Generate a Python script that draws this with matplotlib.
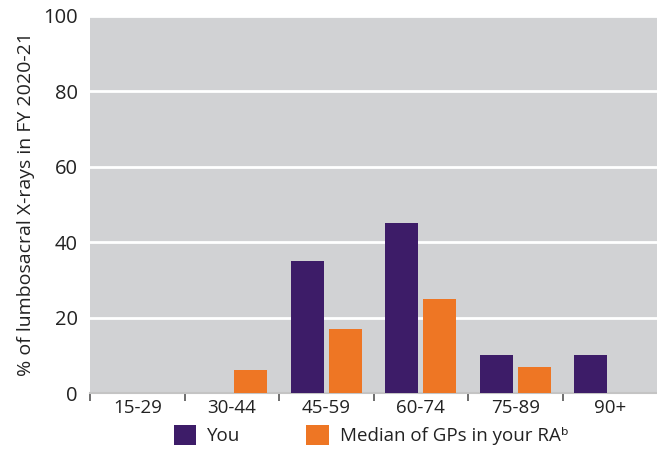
import matplotlib
matplotlib.use("Agg")
import matplotlib.pyplot as plt
import numpy as np

plt.rcParams["font.family"] = ["Open Sans", "DejaVu Sans"]

age_groups = ["15-29", "30-44", "45-59", "60-74", "75-89", "90+"]
you = [0, 0, 35, 45, 10, 10]
median_ra = [0, 6, 17, 25, 7, 0]

PURPLE = "#3d1c68"
ORANGE = "#ee7624"
BG = "#d1d2d4"

fig = plt.figure(figsize=(6.57, 4.51), dpi=100)
ax = fig.add_axes([0.137, 0.1286, 0.863, 0.836])
ax.set_facecolor(BG)

x = np.arange(len(age_groups))
w = 0.35
gap = 0.05
ax.bar(x - (w + gap) / 2, you, width=w, color=PURPLE, label="You", zorder=3)
ax.bar(x + (w + gap) / 2, median_ra, width=w, color=ORANGE,
       label="Median of GPs in your RA\u1d47", zorder=3)

ax.set_xlim(-0.5, len(age_groups) - 0.5)
ax.set_ylim(0, 100)
ax.set_yticks(range(0, 101, 20))
ax.yaxis.grid(True, color="white", linewidth=2, zorder=1)
ax.set_axisbelow(True)

ax.set_xticks(x)
ax.set_xticklabels(age_groups)
ax.set_xticks(np.arange(-0.5, len(age_groups) - 0.5, 1), minor=True)
ax.tick_params(axis="x", which="major", length=0, labelsize=13.5, pad=4, colors="#222222")
ax.tick_params(axis="x", which="minor", length=6, width=1.2, color="#555555", direction="out")
ax.tick_params(axis="y", length=0, labelsize=14.5, pad=9, colors="#222222")

for s in ["top", "right", "left"]:
    ax.spines[s].set_visible(False)
ax.spines["bottom"].set_color("#c4c4c4")
ax.spines["bottom"].set_linewidth(1.5)

ax.set_ylabel("% of lumbosacral X-rays in FY 2020-21", fontsize=14, color="#222222", labelpad=6)

fig.legend(loc="lower center", bbox_to_anchor=(0.565, -0.025), ncol=2, frameon=False,
           fontsize=13.5, handlelength=1.2, handleheight=1.2, columnspacing=3.5,
           handletextpad=0.6, labelcolor="#222222")

fig.savefig("out.png", dpi=100)
